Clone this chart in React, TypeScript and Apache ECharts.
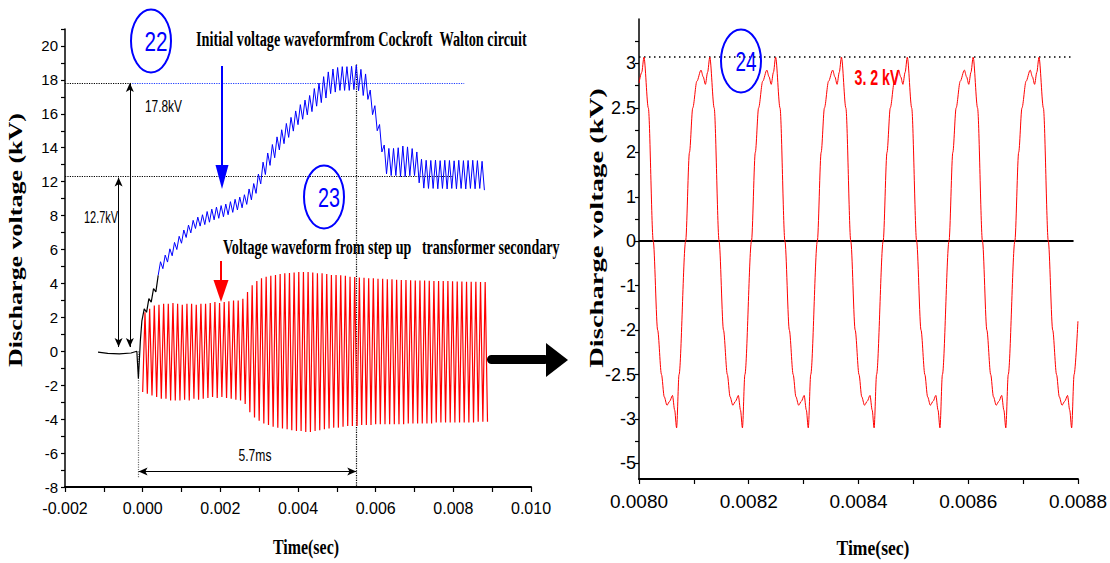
import React, { useEffect, useRef } from 'react';
import * as echarts from 'echarts';

// ---------- tick labels ----------
const leftYTickValues = [-8, -6, -4, -2, 0, 2, 4, 6, 8, 10, 12, 14, 16, 18];
const leftYTickLabels = ['-8', '-6', '-4', '-2', '0', '2', '4', '6', '8', '12', '14', '16', '18', '20'];
const rightYTickValues = [-5, -4, -3, -2, -1, 0, 1, 2, 3, 4];
const rightYTickLabels = ['-5', '-3', '-2.5', '-2', '-1', '0', '1', '2', '2.5', '3'];
const rightYTickMarks = [-5, -4.5, -4, -3.5, -3, -2.5, -2, -1.5, -1, -0.5, 0, 0.5, 1, 1.5, 2, 2.5, 3, 3.5, 4, 4.5];

// ---------- left panel data (time in ms, voltage in axis units) ----------
const blackTrace = [
  [-1.15, -0.05], [-0.9, -0.12], [-0.6, -0.15], [-0.3, -0.1], [-0.15, 0], [-0.11, -1.6],
  [-0.06, 0.6], [-0.02, 1.8], [0.04, 2.5], [0.1, 2.3], [0.16, 3.1], [0.22, 2.9],
  [0.28, 3.7], [0.34, 3.5], [0.4, 4.48],
];

const BLUE_T0 = 0.4;
const BLUE_DT = 0.06; // half ripple period (ms)
const blueValues = [
  4.48, 5.28, 4.87, 5.67, 5.26, 6.04, 5.63, 6.42, 6.0, 6.78,
  6.37, 7.15, 6.71, 7.44, 6.98, 7.72, 7.24, 7.91, 7.38, 8.05,
  7.47, 8.24, 7.61, 8.38, 7.75, 8.5, 7.84, 8.59, 7.93, 8.68,
  8.05, 8.82, 8.19, 8.96, 8.33, 9.09, 8.46, 9.23, 8.66, 9.57,
  8.93, 9.89, 9.31, 10.45, 9.87, 11.15, 10.42, 11.69, 10.96, 12.19,
  11.41, 12.64, 11.87, 13.06, 12.24, 13.43, 12.61, 13.79, 12.98, 14.17,
  13.36, 14.54, 13.68, 14.81, 13.94, 15.08, 14.13, 15.49, 14.45, 15.81,
  14.66, 16.19, 14.93, 16.47, 15.19, 16.64, 15.28, 16.73, 15.38, 16.78,
  15.38, 16.78, 15.38, 16.8, 15.43, 16.87, 15.36, 16.62, 15.08, 16.35,
  14.85, 15.4, 13.95, 14.48, 13.0, 13.37, 11.75, 12.16, 10.46, 11.96,
  10.36, 11.96, 10.36, 12.0, 10.3, 12.1, 10.3, 12.05, 10.35, 11.95,
  10.36, 11.75, 9.93, 11.32, 9.62, 11.26, 9.6, 11.25, 9.6, 11.27,
  9.58, 11.24, 9.6, 11.26, 9.57, 11.25, 9.6, 11.23, 9.58, 11.26,
  9.6, 11.24, 9.57, 11.25, 9.6, 11.26, 9.58, 11.24, 9.6, 11.2,
  9.5,
];

const RED_PERIOD = 0.12; // ms
const redTroughs = [
  -2.4, -2.5, -2.6, -2.7, -2.8, -2.8, -2.9, -2.9, -2.9, -2.85,
  -2.9, -2.8, -2.85, -2.8, -2.75, -2.7, -2.75, -2.7, -2.75, -2.8,
  -2.85, -2.9, -3.1, -3.6, -3.9, -4.1, -4.25, -4.35, -4.45, -4.5,
  -4.55, -4.6, -4.65, -4.7, -4.7, -4.75, -4.75, -4.7, -4.65, -4.6,
  -4.55, -4.5, -4.5, -4.45, -4.4, -4.4, -4.4, -4.35, -4.35, -4.35,
  -4.3, -4.3, -4.3, -4.3, -4.3, -4.3, -4.3, -4.25, -4.25, -4.25,
  -4.25, -4.25, -4.25, -4.2, -4.2, -4.2, -4.2, -4.2, -4.2, -4.2,
  -4.2, -4.2, -4.15, -4.15, -4.15,
];
const redPeaks = [
  2.3, 2.5, 2.7, 2.75, 2.8, 2.8, 2.85, 2.8, 2.75, 2.8,
  2.8, 2.75, 2.8, 2.8, 2.85, 2.9, 2.85, 2.9, 2.95, 3.0,
  3.0, 3.1, 3.5, 3.9, 4.15, 4.3, 4.4, 4.45, 4.5, 4.55,
  4.6, 4.62, 4.65, 4.68, 4.68, 4.68, 4.65, 4.6, 4.6, 4.55,
  4.5, 4.5, 4.48, 4.45, 4.4, 4.38, 4.35, 4.33, 4.3, 4.3,
  4.28, 4.27, 4.25, 4.24, 4.22, 4.2, 4.2, 4.19, 4.18, 4.17,
  4.17, 4.16, 4.15, 4.15, 4.15, 4.14, 4.13, 4.12, 4.11, 4.1,
  4.1, 4.1, 4.09, 4.09,
];

// ---------- right panel data (time in ms, voltage in axis units) ----------
const rightWave = [
  [8.0, 3.56], [8.005, 3.8], [8.009, 4.14], [8.017, 3.0], [8.026, 0], [8.034, -2.0], [8.041, -3.0], [8.046, -3.5], [8.051, -3.69], [8.056, -3.6], [8.061, -3.47], [8.065, -3.8], [8.0685, -4.2], [8.073, -3.0],
  [8.085, 0], [8.092, 2.0], [8.098, 3.0], [8.1055, 3.6], [8.113, 3.85], [8.117, 3.7], [8.121, 3.53], [8.125, 3.8], [8.129, 4.14], [8.137, 3.0], [8.146, 0], [8.154, -2.0], [8.161, -3.0], [8.166, -3.5], [8.171, -3.69], [8.176, -3.6], [8.181, -3.47], [8.185, -3.8], [8.1885, -4.2], [8.193, -3.0],
  [8.205, 0], [8.212, 2.0], [8.218, 3.0], [8.2255, 3.6], [8.233, 3.85], [8.237, 3.7], [8.241, 3.53], [8.245, 3.8], [8.249, 4.14], [8.257, 3.0], [8.266, 0], [8.274, -2.0], [8.281, -3.0], [8.286, -3.5], [8.291, -3.69], [8.296, -3.6], [8.301, -3.47], [8.305, -3.8], [8.3085, -4.2], [8.313, -3.0],
  [8.325, 0], [8.332, 2.0], [8.338, 3.0], [8.3455, 3.6], [8.353, 3.85], [8.357, 3.7], [8.361, 3.53], [8.365, 3.8], [8.369, 4.14], [8.377, 3.0], [8.386, 0], [8.394, -2.0], [8.401, -3.0], [8.406, -3.5], [8.411, -3.69], [8.416, -3.6], [8.421, -3.47], [8.425, -3.8], [8.4285, -4.2], [8.433, -3.0],
  [8.445, 0], [8.452, 2.0], [8.458, 3.0], [8.4655, 3.6], [8.473, 3.85], [8.477, 3.7], [8.481, 3.53], [8.485, 3.8], [8.489, 4.14], [8.497, 3.0], [8.506, 0], [8.514, -2.0], [8.521, -3.0], [8.526, -3.5], [8.531, -3.69], [8.536, -3.6], [8.541, -3.47], [8.545, -3.8], [8.5485, -4.2], [8.553, -3.0],
  [8.565, 0], [8.572, 2.0], [8.578, 3.0], [8.5855, 3.6], [8.593, 3.85], [8.597, 3.7], [8.601, 3.53], [8.605, 3.8], [8.609, 4.14], [8.617, 3.0], [8.626, 0], [8.634, -2.0], [8.641, -3.0], [8.646, -3.5], [8.651, -3.69], [8.656, -3.6], [8.661, -3.47], [8.665, -3.8], [8.6685, -4.2], [8.673, -3.0],
  [8.685, 0], [8.692, 2.0], [8.698, 3.0], [8.7055, 3.6], [8.713, 3.85], [8.717, 3.7], [8.721, 3.53], [8.725, 3.8], [8.729, 4.14], [8.737, 3.0], [8.746, 0], [8.754, -2.0], [8.761, -3.0], [8.766, -3.5], [8.771, -3.69], [8.776, -3.6], [8.781, -3.47], [8.785, -3.8], [8.7885, -4.2], [8.793, -3.0], [8.8, -1.8],
];

// ---------- annotation levels ----------
const LEVEL_178 = 15.82;
const LEVEL_127 = 10.34;
const T_ARROW_A = -0.62;
const T_ARROW_B = -0.33;
const T_PEAK = 5.5;
const T_START = -0.105;
const Y_SPAN = -7.08;
const RIGHT_PEAK = 4.14;

const NARROW = '"Liberation Sans Narrow", "Arial Narrow", "Liberation Sans", Arial, sans-serif';
const SERIF = '"Liberation Serif", "Times New Roman", serif';
const SANS = '"Liberation Sans", Arial, sans-serif';

function measure(text: string, font: string): number {
  const c = document.createElement('canvas').getContext('2d')!;
  c.font = font;
  return c.measureText(text).width || 1;
}

function fitText(text: string, font: string, x: number, y: number, width: number, fill: string, align = 'left'): any {
  return {
    type: 'text', x, y, z: 100, silent: true,
    scaleX: width / measure(text, font),
    style: { text, font, fill, align, verticalAlign: 'middle', textAlign: align, textVerticalAlign: 'middle' },
  };
}

function vertText(text: string, font: string, x: number, y: number, length: number, squash: number): any {
  return {
    type: 'text', x, y, z: 100, silent: true, rotation: Math.PI / 2,
    scaleX: length / measure(text, font), scaleY: squash,
    style: { text, font, fill: '#000', align: 'center', verticalAlign: 'middle', textAlign: 'center', textVerticalAlign: 'middle' },
  };
}

function ellipse(cx: number, cy: number): any {
  return { type: 'ellipse', z: 100, silent: true, shape: { cx, cy, rx: 20, ry: 31.5 }, style: { fill: 'none', stroke: '#0000ff', lineWidth: 2 } };
}

function seg(a: number[], b: number[], lineStyle: any, sa = 'none', sb = 'none', colorB?: string): any {
  return [
    { coord: a, symbol: sa, symbolSize: [6, 9], lineStyle, itemStyle: { color: lineStyle.color } },
    { coord: b, symbol: sb, symbolSize: [6, 9], itemStyle: { color: colorB || lineStyle.color } },
  ];
}

function buildOption(): any {
  const blueData = blueValues.map((v, i) => [BLUE_T0 + i * BLUE_DT, v]);
  const redData: number[][] = [];
  redTroughs.forEach((v, k) => {
    redData.push([k * RED_PERIOD, v]);
    if (k < redPeaks.length) redData.push([k * RED_PERIOD + RED_PERIOD / 2, redPeaks[k]]);
  });

  const dotted = (color: string) => ({ type: 'dotted', color, width: 1.2 });
  const solid = (color: string, width = 1) => ({ type: 'solid', color, width });

  const leftMarks = [
    seg([-2, LEVEL_178], [T_ARROW_B, LEVEL_178], dotted('#000')),
    seg([T_ARROW_B, LEVEL_178], [8.28, LEVEL_178], dotted('#1f3cff')),
    seg([-2, LEVEL_127], [8.0, LEVEL_127], dotted('#000')),
    seg([T_ARROW_A, LEVEL_127 - 0.1], [T_ARROW_A, 0.25], solid('#000'), 'arrow', 'arrow'),
    seg([T_ARROW_B, LEVEL_178], [T_ARROW_B, 0.25], solid('#000'), 'arrow', 'arrow', '#0000ff'),
    seg([T_PEAK, 16.9], [T_PEAK, -8], dotted('#000')),
    seg([T_START, 0], [T_START, -7.45], dotted('#777')),
    seg([T_START, Y_SPAN], [T_PEAK, Y_SPAN], solid('#000'), 'arrow', 'arrow'),
  ];
  const rightMarks = [
    seg([8.0, RIGHT_PEAK], [8.787, RIGHT_PEAK], { type: [1.5, 3.5], color: '#000', width: 1.5 }),
    seg([8.0, 0], [8.792, 0], solid('#000', 2)),
  ];

  const leftYFmt = (v: number) => {
    const r = Math.round(v);
    if (Math.abs(v - r) > 1e-6) return '';
    const i = leftYTickValues.indexOf(r);
    return i >= 0 ? leftYTickLabels[i] : '';
  };
  const rightYFmt = (v: number) => {
    const r = Math.round(v);
    if (Math.abs(v - r) > 1e-6) return '';
    const i = rightYTickValues.indexOf(r);
    return i >= 0 ? rightYTickLabels[i] : '';
  };
  const leftXFmt = (v: number) => {
    const r = Math.round(v);
    return Math.abs(v - r) < 1e-6 && r % 2 === 0 ? (v / 1000).toFixed(3) : '';
  };
  const rightXFmt = (v: number) => {
    const r = Math.round(v * 10);
    return Math.abs(v * 10 - r) < 1e-6 && r % 2 === 0 ? (v / 1000).toFixed(4) : '';
  };

  const axisLine = (w: number) => ({ onZero: false, lineStyle: { color: '#000', width: w } });

  const graphic: any[] = [
    ellipse(151, 41),
    fitText('22', `28px ${SANS}`, 156, 41, 23, '#0000ff', 'center'),
    ellipse(324, 197),
    fitText('23', `28px ${SANS}`, 329, 197, 22, '#0000ff', 'center'),
    ellipse(741, 61),
    fitText('24', `28px ${SANS}`, 746, 61, 21, '#0000ff', 'center'),
    fitText('Initial voltage waveformfrom Cockroft  Walton circuit', `bold 20px ${SERIF}`, 196, 40, 331, '#000'),
    fitText('Voltage waveform from step up   transformer secondary', `bold 20px ${SERIF}`, 223, 248, 337, '#000'),
    fitText('17.8kV', `16px ${SANS}`, 145, 106, 37, '#000'),
    fitText('12.7kV', `16px ${SANS}`, 84, 218, 34, '#000'),
    fitText('5.7ms', `16px ${SANS}`, 238.5, 455, 33, '#000'),
    fitText('3. 2 kV', `bold 22px ${SANS}`, 854.5, 77, 45, '#ff0000'),
    fitText('Time(sec)', `bold 22px ${SERIF}`, 306, 547, 66, '#000', 'center'),
    fitText('Time(sec)', `bold 22px ${SERIF}`, 873, 547, 73, '#000', 'center'),
    vertText('Discharge voltage (kV)', `bold 24px ${SERIF}`, 16, 240, 254, 0.8),
    vertText('Discharge voltage (kV)', `bold 24px ${SERIF}`, 596, 228, 280, 0.8),
    // blue arrow
    { type: 'line', z: 100, silent: true, shape: { x1: 222, y1: 66, x2: 222, y2: 168 }, style: { stroke: '#0000ff', lineWidth: 2 } },
    { type: 'polygon', z: 100, silent: true, shape: { points: [[215.5, 165], [228.5, 165], [222, 189]] }, style: { fill: '#0000ff' } },
    // red arrow
    { type: 'line', z: 100, silent: true, shape: { x1: 221, y1: 261, x2: 221, y2: 282 }, style: { stroke: '#ff0000', lineWidth: 2 } },
    { type: 'polygon', z: 100, silent: true, shape: { points: [[213.5, 280], [228.5, 280], [221, 302]] }, style: { fill: '#ff0000' } },
    // big black arrow
    { type: 'rect', z: 100, silent: true, shape: { x: 487, y: 355, width: 62, height: 9, r: 4.5 }, style: { fill: '#000' } },
    { type: 'polygon', z: 100, silent: true, shape: { points: [[546, 343], [568, 360], [546, 377]] }, style: { fill: '#000' } },
  ];

  return {
    animation: false,
    backgroundColor: '#ffffff',
    grid: [
      { left: 65, top: 29, width: 466, height: 458 },
      { left: 639, top: 19, width: 443, height: 460 },
    ],
    xAxis: [
      {
        type: 'value', gridIndex: 0, min: -2, max: 10, interval: 1,
        axisLine: axisLine(2),
        axisTick: { length: 5, lineStyle: { color: '#000', width: 1.2 } },
        axisLabel: { formatter: leftXFmt, fontFamily: NARROW, fontSize: 16, color: '#000', margin: 13 },
        splitLine: { show: false },
      },
      {
        type: 'value', gridIndex: 1, min: 8.0, max: 8.8, interval: 0.1,
        axisLine: axisLine(2),
        axisTick: { length: 5, lineStyle: { color: '#000', width: 1.2 } },
        axisLabel: { formatter: rightXFmt, fontFamily: NARROW, fontSize: 19, color: '#000', margin: 13 },
        splitLine: { show: false },
      },
    ],
    yAxis: [
      {
        type: 'value', gridIndex: 0, min: -8, max: 19, interval: 1,
        axisLine: axisLine(1.5),
        axisTick: { length: 4, lineStyle: { color: '#000', width: 1.2 } },
        axisLabel: { formatter: leftYFmt, fontFamily: NARROW, fontSize: 15, color: '#000', margin: 7 },
        splitLine: { show: false },
      },
      {
        type: 'value', gridIndex: 1, min: -5.35, max: 5,
        axisLine: axisLine(1.5),
        axisTick: { length: 4, customValues: rightYTickMarks, lineStyle: { color: '#000', width: 1.2 } },
        axisLabel: { customValues: rightYTickValues, formatter: rightYFmt, fontFamily: NARROW, fontSize: 18, color: '#000', margin: 3 },
        splitLine: { show: false },
      },
    ],
    series: [
      {
        name: 'Step-up transformer secondary', type: 'line', xAxisIndex: 0, yAxisIndex: 0,
        data: redData, showSymbol: false, symbol: 'none', silent: true, z: 2,
        lineStyle: { color: '#ff0000', width: 1.2 },
      },
      {
        name: 'Cockcroft Walton output', type: 'line', xAxisIndex: 0, yAxisIndex: 0,
        data: blueData, showSymbol: false, symbol: 'none', silent: true, z: 3,
        lineStyle: { color: '#0000ff', width: 1 },
      },
      {
        name: 'Initial', type: 'line', xAxisIndex: 0, yAxisIndex: 0,
        data: blackTrace, showSymbol: false, symbol: 'none', silent: true, z: 4,
        lineStyle: { color: '#000', width: 1.2 },
        markLine: { silent: true, z: 1, symbol: ['none', 'none'], label: { show: false }, emphasis: { disabled: true }, data: leftMarks },
      },
      {
        name: 'Zoom', type: 'line', xAxisIndex: 1, yAxisIndex: 1,
        data: rightWave, showSymbol: false, symbol: 'none', silent: true, z: 3,
        smooth: 0.3, smoothMonotone: 'x',
        lineStyle: { color: '#ff0000', width: 1 },
        markLine: { silent: true, z: 1, symbol: ['none', 'none'], label: { show: false }, emphasis: { disabled: true }, data: rightMarks },
      },
    ],
    graphic,
  };
}

export default function App() {
  const ref = useRef<HTMLDivElement>(null);
  useEffect(() => {
    const chart = echarts.init(ref.current!, undefined, { renderer: 'svg', width: 1110, height: 563 });
    chart.setOption(buildOption());
    return () => chart.dispose();
  }, []);
  return <div ref={ref} style={{ position: 'fixed', left: 0, top: 0, width: 1110, height: 563, background: '#fff' }} />;
}
